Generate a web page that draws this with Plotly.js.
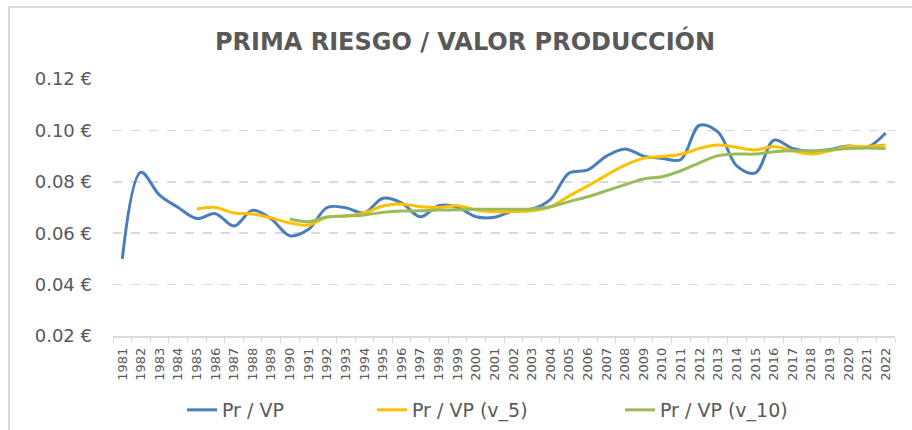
<!DOCTYPE html>
<html>
<head>
<meta charset="utf-8">
<script src="https://cdn.plot.ly/plotly-3.0.1.min.js"></script>
<style>html,body{margin:0;padding:0;background:#fff;}#chart{width:912px;height:430px;}</style>
</head>
<body>
<div id="chart"></div>
<script>
const years = ["1981","1982","1983","1984","1985","1986","1987","1988","1989","1990","1991","1992","1993","1994","1995","1996","1997","1998","1999","2000","2001","2002","2003","2004","2005","2006","2007","2008","2009","2010","2011","2012","2013","2014","2015","2016","2017","2018","2019","2020","2021","2022"];

const prVP = [0.050,0.0837,0.0748,0.0700,0.0657,0.0676,0.0628,0.0689,0.0655,0.0590,0.0615,0.0700,0.0699,0.0679,0.0736,0.0718,0.0664,0.0707,0.0701,0.0664,0.0662,0.0687,0.0694,0.0732,0.0834,0.0846,0.0900,0.0928,0.0900,0.0891,0.0887,0.1020,0.0993,0.0862,0.0835,0.0962,0.0930,0.0919,0.0926,0.0939,0.0934,0.0990];

const prVP5 = [null,null,null,null,0.0694,0.0700,0.0679,0.0675,0.0659,0.0640,0.0632,0.0663,0.0667,0.0679,0.0706,0.0714,0.0703,0.0700,0.0707,0.0690,0.0683,0.0684,0.0687,0.0703,0.0745,0.0784,0.0826,0.0865,0.0891,0.0898,0.0907,0.0930,0.0943,0.0934,0.0924,0.0937,0.0921,0.0908,0.0921,0.0937,0.0937,0.0943];

const prVP10 = [null,null,null,null,null,null,null,null,null,0.0655,0.0645,0.0663,0.0667,0.0671,0.0681,0.0686,0.0687,0.0690,0.0691,0.0693,0.0693,0.0693,0.0694,0.0703,0.0723,0.0742,0.0765,0.0789,0.0811,0.0820,0.0843,0.0874,0.0902,0.0908,0.0908,0.0917,0.0921,0.0920,0.0924,0.0930,0.0932,0.0930];

const yTickVals = [0.02,0.04,0.06,0.08,0.10,0.12];
const yTickText = ["0.02 €","0.04 €","0.06 €","0.08 €","0.10 €","0.12 €"];

const seriesNames = ["Pr / VP","Pr / VP (v_5)","Pr / VP (v_10)"];
const colors = ["#4a7ebb","#ffc000","#9bbb59"];
const legendIds = ["legend","legend2","legend3"];
const font = "'DejaVu Sans', 'Open Sans', sans-serif";

const data = [prVP, prVP5, prVP10].map((vals, i) => ({
  x: years,
  y: vals,
  name: seriesNames[i],
  legend: legendIds[i],
  type: "scatter",
  mode: "lines",
  connectgaps: false,
  line: {color: colors[i], width: 3, shape: "spline", smoothing: 1}
}));

function legendAt(px) {
  return {
    x: px / 912, xanchor: "left", xref: "container",
    yref: "container", y: 1 - 410/430, yanchor: "middle",
    font: {size: 19, color: "#595959", family: font},
    bgcolor: "rgba(0,0,0,0)",
    itemwidth: 30
  };
}

const layout = {
  width: 912,
  height: 430,
  margin: {l: 113, r: 17, t: 79, b: 94, autoexpand: false},
  paper_bgcolor: "#fff",
  plot_bgcolor: "#fff",
  font: {family: font, color: "#595959"},
  title: {
    text: "<b>PRIMA RIESGO / VALOR PRODUCCIÓN</b>",
    font: {size: 24, color: "#595959", family: font},
    x: 465/912, xanchor: "center", xref: "container",
    yref: "container", y: 1 - 42/430, yanchor: "middle"
  },
  xaxis: {
    type: "category",
    range: [-0.5, years.length - 0.5],
    tickmode: "linear",
    tick0: 0,
    dtick: 1,
    tickangle: -90,
    tickfont: {size: 13, color: "#595959", family: font},
    showgrid: false,
    showline: true,
    linecolor: "#d9d9d9",
    linewidth: 1.5,
    ticks: "outside",
    tickson: "boundaries",
    ticklen: 5,
    tickcolor: "#d9d9d9",
    ticklabelstandoff: 5,
    zeroline: false,
    automargin: false,
    fixedrange: true
  },
  yaxis: {
    range: [0.02, 0.12],
    tickmode: "array",
    tickvals: yTickVals,
    ticktext: yTickText,
    tickfont: {size: 18, color: "#595959", family: font},
    showgrid: true,
    gridcolor: "#d9d9d9",
    gridwidth: 1.5,
    griddash: "dash",
    showline: false,
    zeroline: false,
    ticklabelstandoff: 20,
    automargin: false,
    fixedrange: true
  },
  showlegend: true,
  legend: legendAt(182),
  legend2: legendAt(372),
  legend3: legendAt(620),
  shapes: [{
    type: "rect", xref: "paper", yref: "paper",
    x0: (9 - 113)/782, x1: (918 - 113)/782, y0: (336 - 440)/257, y1: (336 - 7)/257,
    line: {color: "#d9d9d9", width: 2}
  }]
};

Plotly.newPlot("chart", data, layout, {displayModeBar: false, staticPlot: true});
</script>
</body>
</html>
